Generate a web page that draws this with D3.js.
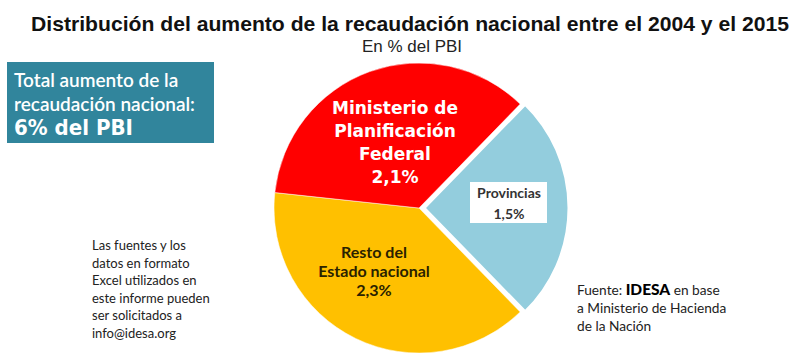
<!DOCTYPE html>
<html><head><meta charset="utf-8">
<script src="https://cdn.jsdelivr.net/npm/d3@7"></script>
<style>body{margin:0;background:#fff}svg{display:block}</style>
</head><body>
<svg id="c" width="800" height="359"></svg>
<script>
const categories = ["Provincias", "Resto del Estado nacional", "Ministerio de Planificación Federal"];
const values = [1.5, 2.3, 2.1];
const valueLabels = ["1,5%", "2,3%", "2,1%"];
const colors = ["#93CDDD", "#FFC000", "#FF0000"];

const svg = d3.select("#c");
const W = 800, H = 359;
svg.append("rect").attr("width", W).attr("height", H).attr("fill", "#fff");

// Title
svg.append("text").attr("x", 410).attr("y", 31).attr("text-anchor", "middle")
  .attr("font-family", "Liberation Sans, Arial, sans-serif").attr("font-weight", "bold")
  .attr("font-size", 21).attr("fill", "#111")
  .attr("textLength", 758).attr("lengthAdjust", "spacingAndGlyphs")
  .text("Distribución del aumento de la recaudación nacional entre el 2004 y el 2015");
svg.append("text").attr("x", 412).attr("y", 52).attr("text-anchor", "middle")
  .attr("font-family", "Liberation Sans, Arial, sans-serif")
  .attr("font-size", 16).attr("fill", "#222")
  .attr("textLength", 100).attr("lengthAdjust", "spacingAndGlyphs").text("En % del PBI");

// Teal box
svg.append("rect").attr("x", 7).attr("y", 62).attr("width", 207).attr("height", 81).attr("fill", "#31859C");
const bt = svg.append("g").attr("font-family", "Lato, Open Sans, sans-serif").attr("fill", "#fff");
bt.append("text").attr("x", 14).attr("y", 87).attr("font-size", 19).attr("font-weight", "600").text("Total aumento de la");
bt.append("text").attr("x", 14).attr("y", 111).attr("font-size", 19).attr("font-weight", "600").text("recaudación nacional:");
bt.append("text").attr("x", 14).attr("y", 135).attr("font-size", 21).attr("font-weight", "900")
  .attr("font-family", "DejaVu Sans, sans-serif").attr("textLength", 119).attr("lengthAdjust", "spacingAndGlyphs").text("6% del PBI");

// Pie
const total = d3.sum(values);
const cx = 419, cy = 208, R = 145;
const half = values[0] / total * Math.PI;
const pie = d3.pie().sort(null).value(d => d).startAngle(Math.PI / 2 - half).endAngle(Math.PI / 2 - half + 2 * Math.PI);
const arcs = pie(values);
const arc = d3.arc().innerRadius(0).outerRadius(R);
const g = svg.append("g").attr("transform", `translate(${cx},${cy})`);
g.selectAll("path").data(arcs).join("path")
  .attr("d", arc)
  .attr("fill", (d, i) => colors[i])
  .attr("stroke", "#fff").attr("stroke-width", (d, i) => i === 0 ? 3 : 0.5)
  .attr("transform", (d, i) => i === 0 ? "translate(5,0)" : null);

// Labels
const ml = svg.append("g").attr("font-family", "DejaVu Sans, sans-serif").attr("font-weight", "bold")
  .attr("fill", "#fff").attr("text-anchor", "middle").attr("font-size", 17);
["Ministerio de", "Planificación", "Federal", valueLabels[2]].forEach((t, i) => {
  ml.append("text").attr("x", 395).attr("y", 114 + i * 23).text(t);
});
const rl = svg.append("g").attr("font-family", "Lato, Open Sans, sans-serif").attr("font-weight", "bold")
  .attr("fill", "#2a2200").attr("text-anchor", "middle").attr("font-size", 16);
["Resto del", "Estado nacional", valueLabels[1]].forEach((t, i) => {
  rl.append("text").attr("x", 374).attr("y", 258 + i * 19).text(t);
});
svg.append("rect").attr("x", 470).attr("y", 182).attr("width", 77).attr("height", 41).attr("fill", "#fff");
const pl = svg.append("g").attr("font-family", "Lato, Open Sans, sans-serif").attr("font-weight", "bold")
  .attr("fill", "#333").attr("text-anchor", "middle").attr("font-size", 14);
pl.append("text").attr("x", 509).attr("y", 198).text("Provincias");
pl.append("text").attr("x", 509).attr("y", 219).text(valueLabels[0]);

// Notes
const nl = svg.append("g").attr("font-family", "Lato, Open Sans, sans-serif").attr("font-size", 13).attr("fill", "#222");
["Las fuentes y los", "datos en formato", "Excel utilizados en", "este informe pueden", "ser solicitados a", "info@idesa.org"]
  .forEach((t, i) => nl.append("text").attr("x", 92).attr("y", 250 + i * 17.6).text(t));

// Fuente
const fl = svg.append("g").attr("font-family", "Lato, Open Sans, sans-serif").attr("font-size", 13.7).attr("fill", "#222");
const f1 = fl.append("text").attr("x", 577).attr("y", 295);
f1.append("tspan").text("Fuente: ");
f1.append("tspan").attr("font-weight", "900").attr("font-size", 15.5).attr("fill", "#000").text("IDESA");
f1.append("tspan").text(" en base");
fl.append("text").attr("x", 577).attr("y", 313).text("a Ministerio de Hacienda");
fl.append("text").attr("x", 577).attr("y", 331).text("de la Nación");
</script>
</body></html>
